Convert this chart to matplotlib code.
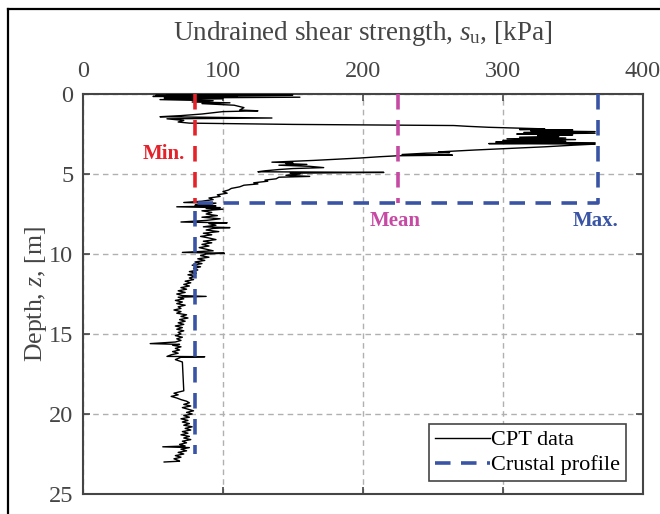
import matplotlib
matplotlib.use("Agg")
import matplotlib.pyplot as plt
from matplotlib.lines import Line2D

plt.rcParams['font.family'] = ['Liberation Serif', 'DejaVu Serif']
plt.rcParams['mathtext.fontset'] = 'custom'
plt.rcParams['mathtext.rm'] = 'Liberation Serif'
plt.rcParams['mathtext.it'] = 'Liberation Serif:italic'

# CPT undrained shear strength profile (depth in m, su in kPa)
cpt_depth = [
    0.02, 0.05, 0.08, 0.12, 0.15, 0.2, 0.25, 0.3, 0.35, 0.42, 0.5, 0.55, 0.6, 0.7, 0.85,
    1.0, 1.05, 1.1, 1.15, 1.25, 1.35, 1.42, 1.5, 1.55, 1.65, 1.75, 1.82,
    1.9, 1.97, 2.02, 2.08, 2.12, 2.18, 2.22, 2.25, 2.3, 2.35, 2.4, 2.45, 2.5, 2.55, 2.6,
    2.65, 2.7, 2.75, 2.8, 2.85, 2.9, 2.95, 3.0, 3.05, 3.1, 3.13,
    3.2, 3.3, 3.4, 3.5, 3.58, 3.62, 3.66, 3.7, 3.75, 3.78, 3.82, 3.86, 3.92, 4.0, 4.08,
    4.15, 4.22, 4.26, 4.3, 4.35, 4.4, 4.45, 4.52, 4.6, 4.66, 4.72, 4.8, 4.86, 4.9, 4.95,
    5.0, 5.08, 5.15, 5.2, 5.3, 5.38, 5.45, 5.55, 5.62, 5.7, 5.8, 5.9, 6.0, 6.1, 6.2,
    6.3, 6.4, 6.5, 6.6, 6.7, 6.78, 6.82,
    6.9, 6.95, 7.0, 7.05, 7.1, 7.15, 7.2, 7.3, 7.4, 7.5, 7.6, 7.7, 7.8, 7.9, 8.0, 8.05,
    8.1, 8.2, 8.3, 8.35, 8.4, 8.5, 8.6, 8.7, 8.8, 8.9, 9.0, 9.1, 9.2, 9.3, 9.4, 9.5,
    9.6, 9.7, 9.8, 9.9, 9.95, 10.0,
    10.1, 10.2, 10.3, 10.4, 10.5, 10.6, 10.7, 10.8, 10.9, 11.0, 11.1, 11.2, 11.3, 11.4,
    11.5, 11.6, 11.7, 11.8, 11.9, 12.0, 12.1, 12.2, 12.3, 12.4, 12.5, 12.6, 12.65, 12.7,
    12.8, 12.9, 13.0, 13.1, 13.2, 13.3, 13.4, 13.5, 13.6, 13.7, 13.8, 13.9, 14.0, 14.1,
    14.2, 14.3, 14.4, 14.5, 14.6, 14.7, 14.8, 14.9, 15.0, 15.1, 15.2, 15.3, 15.4, 15.5,
    15.6, 15.65, 15.7, 15.8, 15.9, 16.0, 16.1, 16.2, 16.3, 16.4, 16.42, 16.45, 16.6, 16.75,
    18.55, 18.7, 18.8, 18.9, 19.0, 19.1, 19.2, 19.3, 19.4, 19.5, 19.6, 19.7, 19.8, 19.9,
    20.0, 20.1, 20.2, 20.3, 20.4, 20.5, 20.6, 20.7, 20.8, 20.9, 21.0, 21.1, 21.2, 21.3,
    21.4, 21.5, 21.6, 21.7, 21.8, 21.9, 22.0, 22.05, 22.1, 22.2, 22.3, 22.4, 22.5, 22.6,
    22.7, 22.8, 22.9, 22.95, 23.0,
]
cpt_su = [
    60, 150, 52, 110, 50, 155, 58, 100, 55, 93, 78, 105, 85, 108, 115,
    112, 125, 100, 95, 85, 70, 55, 135, 60, 72, 68, 76,
    150, 265, 275, 290, 306, 330, 312, 350, 320, 366, 315, 366, 310, 350, 325,
    340, 312, 345, 303, 352, 300, 345, 295, 366, 290, 366,
    350, 330, 305, 280, 262, 254, 262, 245, 235, 228, 264, 225, 212, 198, 180,
    165, 145, 135, 150, 145, 160, 140, 162, 172, 150, 140, 130, 125, 215, 148,
    155, 145, 162, 140, 138, 130, 132, 122, 125, 115, 112, 106, 104, 100, 103,
    96, 98, 90, 93, 85, 72, 95,
    90, 80, 95, 67, 98, 88, 100, 85, 92, 88, 96, 85, 98, 88, 70, 103,
    90, 95, 86, 105, 93, 88, 97, 86, 92, 84, 90, 95, 86, 92, 85, 90,
    83, 88, 93, 71, 101, 88,
    84, 90, 82, 87, 80, 85, 78, 84, 79, 82, 76, 81, 75, 80,
    76, 79, 73, 77, 72, 76, 70, 74, 68, 73, 67, 71, 88, 68,
    72, 66, 71, 67, 73, 68, 70, 65, 70, 67, 74, 70, 75, 69,
    73, 68, 72, 66, 71, 67, 72, 68, 70, 66, 71, 67, 70, 66,
    48, 69, 64, 70, 66, 69, 64, 68, 63, 60, 87, 70, 66, 71,
    72, 65, 68, 63, 67, 70, 74, 76, 72, 77, 71, 75, 79, 74,
    78, 72, 76, 70, 75, 71, 76, 72, 78, 73, 77, 71, 75, 70,
    76, 72, 77, 71, 74, 69, 73, 57, 76, 70, 74, 68, 72, 66,
    70, 65, 68, 69, 58,
]

# crustal profile parameters
su_min = 80
su_mean = 225
su_max = 368
crust_depth = 6.8
profile_bottom = 22.5

red = '#e5222a'
magenta = '#c64aa3'
blue = '#3a54a5'
dark = '#454545'

fig = plt.figure(figsize=(6.6, 5.14), dpi=100)
ax = fig.add_axes([0.1258, 0.0389, 0.848, 0.7782])

ax.plot(cpt_su, cpt_depth, color='black', lw=1.0, label='CPT data', zorder=3)

dash = (4.3, 2.9)
ax.plot([su_min, su_min], [0, crust_depth], color=red, lw=2.6, dashes=dash, zorder=4)
ax.plot([su_mean, su_mean], [0, crust_depth], color=magenta, lw=2.6, dashes=dash, zorder=4)
ax.plot([su_max, su_max, su_min, su_min], [0, crust_depth, crust_depth, profile_bottom],
        color=blue, lw=2.6, dashes=dash, zorder=5, label='Crustal profile')

ax.text(58, 3.75, 'Min.', color=red, fontsize=15, fontweight='bold', ha='center', va='center')
ax.text(223, 7.95, 'Mean', color=magenta, fontsize=15, fontweight='bold', ha='center', va='center')
ax.text(366, 7.95, 'Max.', color=blue, fontsize=15, fontweight='bold', ha='center', va='center')

ax.set_xlim(0, 400)
ax.set_ylim(25, 0)
ax.set_xticks([0, 100, 200, 300, 400])
ax.set_yticks([0, 5, 10, 15, 20, 25])
ax.xaxis.tick_top()
ax.xaxis.set_label_position('top')
ax.tick_params(direction='in', length=5, width=1.2, color=dark, labelsize=17.5,
               labelcolor=dark, top=True, bottom=True, left=True, right=True,
               labeltop=True, labelbottom=False)
ax.tick_params(axis='x', pad=9)
ax.tick_params(axis='y', pad=7)
ax.set_xlabel('Undrained shear strength, $s_\\mathrm{u}$, [kPa]', fontsize=19.5,
              color=dark, labelpad=15)
ax.set_ylabel('Depth, $z$, [m]', fontsize=18.5, color=dark, labelpad=0)

ax.grid(True, color='#b0b0b0', lw=1.0, dashes=(4, 3))
ax.set_axisbelow(True)
for sp in ax.spines.values():
    sp.set_color(dark)
    sp.set_linewidth(1.5)

leg = ax.legend(loc='lower right', fontsize=16, handlelength=2.5, handletextpad=0.05,
                borderpad=0.25, labelspacing=0.2, fancybox=False, framealpha=1,
                bbox_to_anchor=(0.99, 0.005))
leg.get_frame().set_edgecolor(dark)
leg.get_frame().set_linewidth(1.2)

# outer frame of the figure
fig.add_artist(Line2D([8 / 660, 8 / 660], [0, 1 - 9 / 514], transform=fig.transFigure,
                      color='black', lw=1.6))
fig.add_artist(Line2D([8 / 660, 1], [1 - 9 / 514, 1 - 9 / 514], transform=fig.transFigure,
                      color='black', lw=1.6))

fig.savefig('out.png', dpi=100)
